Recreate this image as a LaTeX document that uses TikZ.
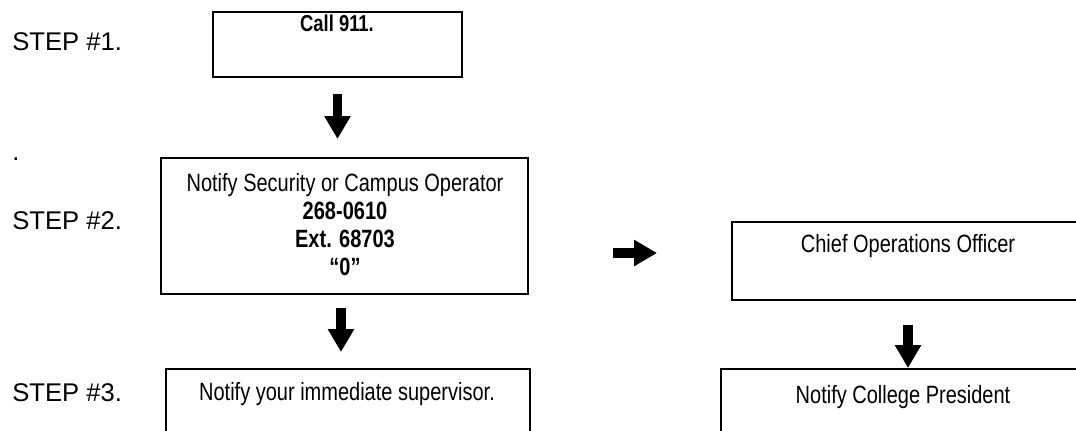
\documentclass[tikz,border=0pt]{standalone}
\usepackage{fontspec}
\setmainfont{Liberation Sans}
\newfontfamily\narrowfont[FakeStretch=0.8]{Liberation Sans}
\usetikzlibrary{arrows.meta}

\tikzset{
  stepbox/.style={draw, line width=1pt, inner sep=0pt},
  boxtext/.style={font=\narrowfont\fontsize{12.5}{14}\selectfont, align=center, inner sep=0pt},
  steplabel/.style={font=\fontsize{12.8}{15}\selectfont, anchor=west, inner sep=0pt},
  bigarrow/.style={line width=4.75pt, -{Triangle[length=11.5pt,width=12.5pt]}}
}

\begin{document}
\begin{tikzpicture}[x=0.5pt,y=-0.5pt]
  \useasboundingbox (0,0) rectangle (1076,430);
  % step labels
  \node[steplabel] (step1) at (12,42) {STEP \#1.};
  \node[steplabel] (dot) at (12,159) {.};
  \node[steplabel] (step2) at (12,221) {STEP \#2.};
  \node[steplabel] (step3) at (12,393) {STEP \#3.};

  % boxes
  \node[stepbox, minimum width=124.5pt, minimum height=32.5pt] (call) at (337.5,44.5) {};
  \node[stepbox, minimum width=183.5pt, minimum height=68pt] (sec) at (344.5,226) {};
  \node[stepbox, minimum width=182pt, minimum height=40.5pt] (sup) at (348,409.5) {};
  \node[stepbox, minimum width=176pt, minimum height=39pt] (chief) at (908,261) {};
  \node[stepbox, minimum width=187pt, minimum height=40.5pt] (pres) at (908,409.5) {};

  % box texts
  \node[boxtext, font=\narrowfont\bfseries\fontsize{11.5}{13}\selectfont] (calltxt) at (337,23) {Call 911.};
  \node[boxtext, anchor=north] (sectxt) at (345,173)
    {Notify Security or Campus Operator\\ \textbf{268-0610}\\ \textbf{Ext. 68703}\\ \textbf{“0”}};
  \node[boxtext] (suptxt) at (347,394) {Notify your immediate supervisor.};
  \node[boxtext] (chieftxt) at (908,246) {Chief Operations Officer};
  \node[boxtext] (prestxt) at (903,397) {Notify College President};

  % arrows
  \draw[bigarrow, shorten <=8pt, shorten >=9pt] (call.south) -- (call.south |- sec.north);
  \draw[bigarrow, shorten <=6.5pt, shorten >=8pt] ([xshift=-1.75pt]sec.south) -- ([xshift=-1.75pt]sec.south |- sup.north);
  \coordinate (rgo) at ([yshift=-13.5pt]sec.east);
  \draw[bigarrow, shorten <=42pt, shorten >=37pt] (rgo) -- (rgo -| chief.west);
  \draw[bigarrow, shorten <=12pt] (chief.south) -- (pres.north);
\end{tikzpicture}
\end{document}
